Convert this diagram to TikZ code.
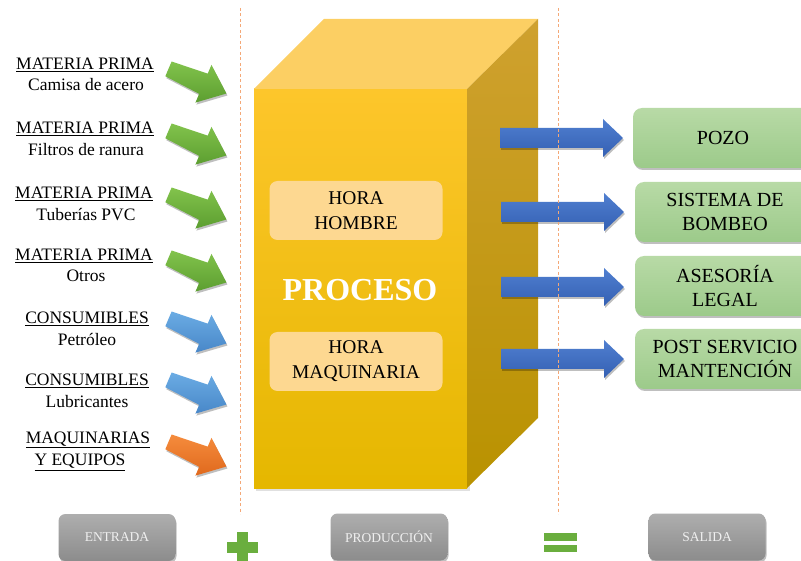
\documentclass[tikz,border=0pt]{standalone}
\usepackage{fontspec}
\setmainfont{Liberation Serif}
\usetikzlibrary{shadows}
\definecolor{dashorange}{HTML}{F4A877}
\definecolor{cubeFT}{HTML}{FDC62B}
\definecolor{cubeFB}{HTML}{E5B700}
\definecolor{cubeTop}{HTML}{FCCF63}
\definecolor{cubeRT}{HTML}{CFA12F}
\definecolor{cubeRB}{HTML}{B99200}
\definecolor{hourfill}{HTML}{FDD891}
\definecolor{grT}{HTML}{82C34C}
\definecolor{grB}{HTML}{5C9E30}
\definecolor{blT}{HTML}{6BACE4}
\definecolor{blB}{HTML}{4887C8}
\definecolor{orT}{HTML}{F58C3D}
\definecolor{orB}{HTML}{E0691D}
\definecolor{rbT}{HTML}{507FD0}
\definecolor{rbB}{HTML}{3460B3}
\definecolor{gbT}{HTML}{B8DAA6}
\definecolor{gbB}{HTML}{9CCA8A}
\definecolor{gyT}{HTML}{AEAEAE}
\definecolor{gyB}{HTML}{8C8C8C}
\definecolor{plusg}{HTML}{6AAE3E}
\tikzset{
  lbl/.style={font=\fontsize{17.5}{21}\selectfont, anchor=base, inner sep=0pt},
  dashln/.style={draw=dashorange, line width=1pt, dash pattern=on 3pt off 2.5pt},
  softshadow/.style={drop shadow={shadow xshift=1pt, shadow yshift=-2pt, opacity=0.25, fill=black}},
  greenin/.style={top color=grT, bottom color=grB},
  bluein/.style={top color=blT, bottom color=blB},
  orangein/.style={top color=orT, bottom color=orB},
  pics/inarrow/.style={code={
    \path[#1, softshadow] (-31,-8) -- (7,-11) -- (7,-20.5) -- (32,0)
      -- (7,20.5) -- (7,11) -- (-31,8) -- cycle;
  }},
  pics/outarrow/.style={code={
    \path[top color=rbT, bottom color=rbB, softshadow] (0,-10) -- (103,-10) -- (103,-19)
      -- (123,0) -- (103,19) -- (103,10) -- (0,10) -- cycle;
  }},
  hourbox/.style={rounded corners=8pt, fill=hourfill, minimum width=173pt, minimum height=59pt,
    align=center, inner sep=0pt, font=\fontsize{19.5}{25}\selectfont},
  greenbox/.style={rounded corners=9pt, top color=gbT, bottom color=gbB, softshadow,
    minimum width=180pt, minimum height=60pt, align=center, inner sep=0pt,
    font=\fontsize{20}{24.5}\selectfont},
  graybox/.style={rounded corners=7pt, top color=gyT, bottom color=gyB, softshadow,
    minimum width=117pt, minimum height=47pt, inner sep=0pt,
    text=white!94!black, font=\fontsize{13.5}{15}\selectfont}
}
\begin{document}
\begin{tikzpicture}[x=1pt,y=-1pt]
\useasboundingbox (0,0) rectangle (801,561);
\clip (0,0) rectangle (801,561);

% ---- cube ----
\fill[black, opacity=0.12] (256,92) rectangle (470,491);
\shade[top color=cubeFT, bottom color=cubeFB] (254,89) rectangle (467,488);
\fill[cubeTop] (254,89) -- (324,19) -- (538,19) -- (467,89) -- cycle;
\shade[top color=cubeRT, bottom color=cubeRB] (467,89) -- (538,19) -- (538,418) -- (467,488) -- cycle;

\node[hourbox] (hh) at (356,210.5) {HORA\\HOMBRE};
\node[hourbox] (hm) at (356,361.5) {HORA\\MAQUINARIA};
\node[font=\fontsize{32}{36}\selectfont\bfseries, text=white, inner sep=0pt] (proc) at (360,290) {PROCESO};

% ---- output arrows ----
\pic at (500,138) {outarrow};
\pic at (501,212) {outarrow};
\pic at (501,287) {outarrow};
\pic at (501,359) {outarrow};

% ---- output boxes ----
\node[greenbox] (pozo) at (723,138) {POZO};
\node[greenbox] (bombeo) at (725,212) {SISTEMA DE\\BOMBEO};
\node[greenbox] (legal) at (725,286) {ASESORÍA\\LEGAL};
\node[greenbox] (post) at (725,359) {POST SERVICIO\\MANTENCIÓN};

% ---- input labels ----
\node[lbl] (l1a) at (85,69.5) {\underline{MATERIA PRIMA}};
\node[lbl] (l1b) at (86,91) {Camisa de acero};
\node[lbl] (l2a) at (85,134) {\underline{MATERIA PRIMA}};
\node[lbl] (l2b) at (86,155.5) {Filtros de ranura};
\node[lbl] (l3a) at (84,199) {\underline{MATERIA PRIMA}};
\node[lbl] (l3b) at (86,220.5) {Tuberías PVC};
\node[lbl] (l4a) at (84,260.5) {\underline{MATERIA PRIMA}};
\node[lbl] (l4b) at (86,282) {Otros};
\node[lbl] (l5a) at (87,324) {\underline{CONSUMIBLES}};
\node[lbl] (l5b) at (87,345.5) {Petróleo};
\node[lbl] (l6a) at (87,385.5) {\underline{CONSUMIBLES}};
\node[lbl] (l6b) at (87,407) {Lubricantes};
\node[lbl] (l7a) at (88,443) {\underline{MAQUINARIAS}};
\node[lbl] (l7b) at (80,465.5) {\underline{Y EQUIPOS}};

% ---- input arrows ----
\pic[rotate=-23] at (197,81) {inarrow=greenin};
\pic[rotate=-23] at (197,143) {inarrow=greenin};
\pic[rotate=-23] at (197,207) {inarrow=greenin};
\pic[rotate=-23] at (197,270) {inarrow=greenin};
\pic[rotate=-23] at (197,331) {inarrow=bluein};
\pic[rotate=-23] at (197,392) {inarrow=bluein};
\pic[rotate=-23] at (197,454) {inarrow=orangein};

% ---- dashed separators ----
\coordinate (d1t) at (240,8);
\coordinate (d1b) at (240,514);
\coordinate (d2t) at (558,8);
\coordinate (d2b) at (558,514);
\draw[dashln] (d1t) -- (d1b);
\draw[dashln] (d2t) -- (d2b);

% ---- bottom row ----
\node[graybox] (entrada) at (117,537.5) {ENTRADA};
\node[graybox] (produccion) at (389,537) {PRODUCCIÓN};
\node[graybox] (salida) at (707,537) {SALIDA};

\fill[plusg] (236.5,532) rectangle (247.5,563);
\fill[plusg] (226.5,542) rectangle (257.5,553);
\fill[plusg] (544,533) rectangle (577,541);
\fill[plusg] (544,545) rectangle (577,552);
\end{tikzpicture}
\end{document}
